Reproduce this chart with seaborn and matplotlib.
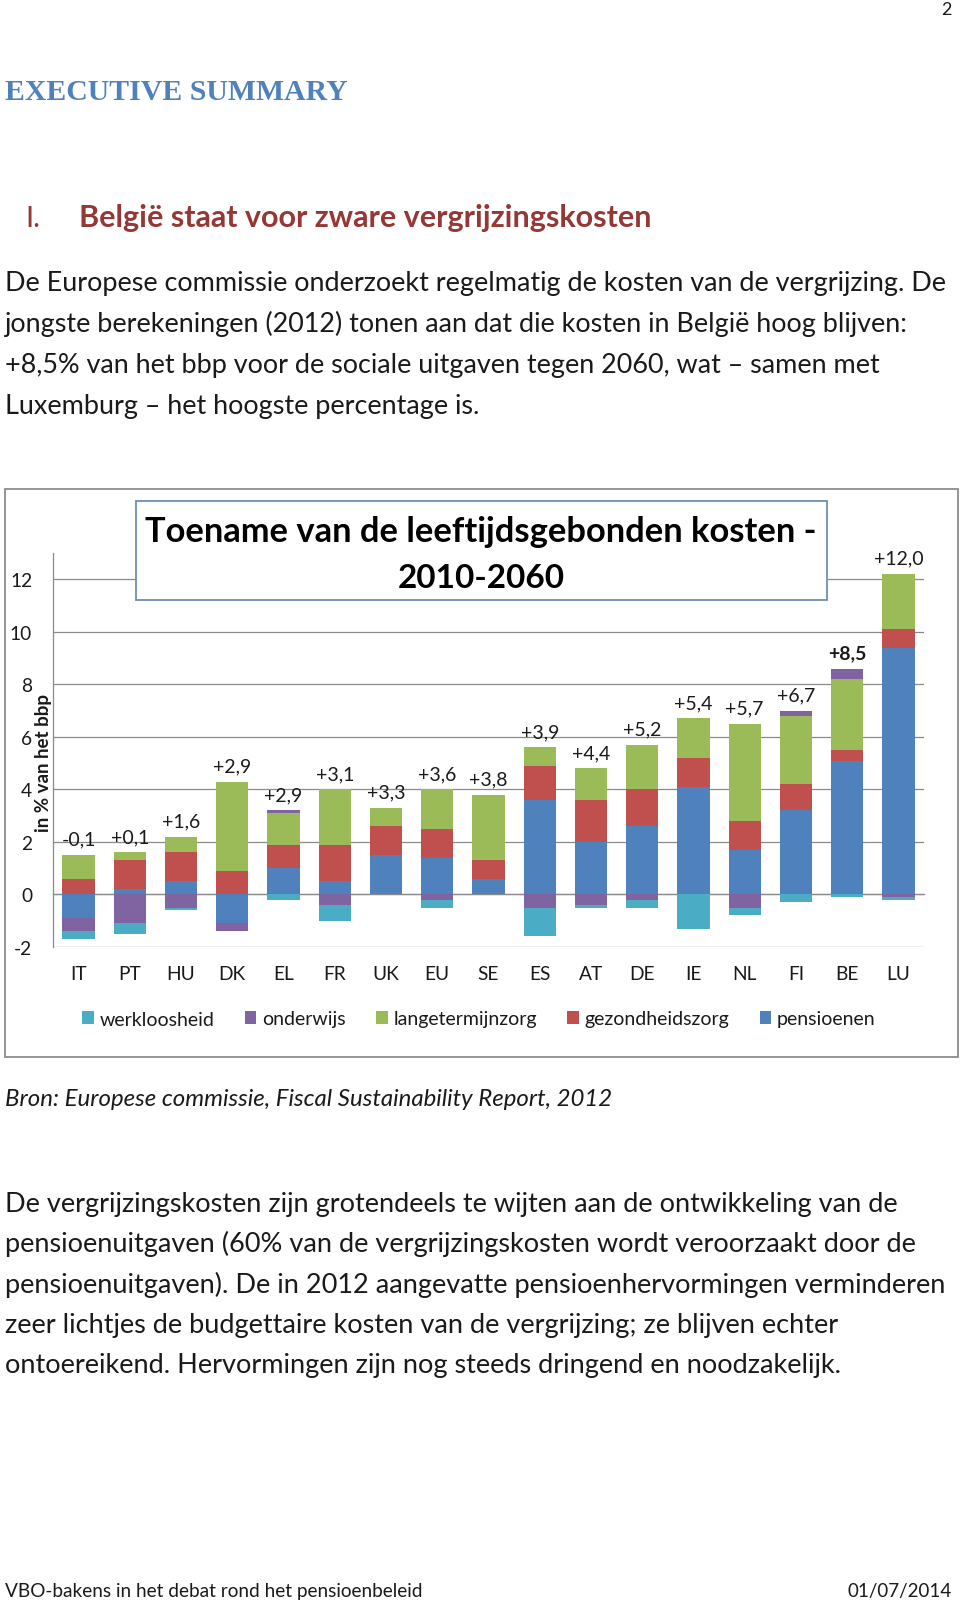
import matplotlib
matplotlib.use("Agg")
import numpy as np
import matplotlib.pyplot as plt
import seaborn as sns
from matplotlib.patches import Rectangle, Patch
from matplotlib.ticker import FixedLocator

# Gegevens: toename leeftijdsgebonden kosten 2010-2060 (in % van het bbp)
landen = ["IT", "PT", "HU", "DK", "EL", "FR", "UK", "EU", "SE",
          "ES", "AT", "DE", "IE", "NL", "FI", "BE", "LU"]
pensioenen = [-0.9, 0.2, 0.5, -1.1, 1.0, 0.5, 1.5, 1.4, 0.6,
              3.6, 2.0, 2.6, 4.1, 1.7, 3.2, 5.1, 9.4]
gezondheidszorg = [0.6, 1.1, 1.1, 0.9, 0.9, 1.4, 1.1, 1.1, 0.7,
                   1.3, 1.6, 1.4, 1.1, 1.1, 1.0, 0.4, 0.7]
langetermijnzorg = [0.9, 0.3, 0.6, 3.4, 1.2, 2.1, 0.7, 1.5, 2.5,
                    0.7, 1.2, 1.7, 1.5, 3.7, 2.6, 2.7, 2.1]
onderwijs = [-0.5, -1.1, -0.5, -0.3, 0.1, -0.4, 0.0, -0.2, 0.0,
             -0.5, -0.4, -0.2, 0.0, -0.5, 0.2, 0.4, -0.1]
werkloosheid = [-0.3, -0.4, -0.1, 0.0, -0.2, -0.6, 0.0, -0.3, 0.0,
                -1.1, -0.1, -0.3, -1.3, -0.3, -0.3, -0.1, -0.1]
totalen = ["-0,1", "+0,1", "+1,6", "+2,9", "+2,9", "+3,1", "+3,3", "+3,6", "+3,8",
           "+3,9", "+4,4", "+5,2", "+5,4", "+5,7", "+6,7", "+8,5", "+12,0"]
yticks = [-2, 0, 2, 4, 6, 8, 10, 12]

reeksen = [("pensioenen", pensioenen, "#4f81bd"),
           ("gezondheidszorg", gezondheidszorg, "#c0504d"),
           ("langetermijnzorg", langetermijnzorg, "#9bbb59"),
           ("onderwijs", onderwijs, "#8064a2"),
           ("werkloosheid", werkloosheid, "#4bacc6")]

sns.set_style("white")
plt.rcParams['font.family'] = ['Lato', 'DejaVu Sans']

W, H = 960, 1606
fig = plt.figure(figsize=(W / 100, H / 100), dpi=100)


def fx(px):
    return px / W


def fy(py):
    return 1 - py / H


tekst_kleur = "#1a1a1a"

# --- paginatekst ---
fig.text(fx(952), fy(15), "2", ha='right', va='baseline', fontsize=13, color=tekst_kleur)
fig.text(fx(5), fy(100), "EXECUTIVE SUMMARY", family='Liberation Serif', weight='bold',
         fontsize=21.4, color="#4f81bd", va='baseline')
fig.text(fx(25), fy(227), "I.", fontsize=21, color="#953735", va='baseline')
fig.text(fx(79), fy(227), "België staat voor zware vergrijzingskosten", fontsize=22,
         weight='bold', color="#953735", va='baseline')

alinea1 = ["De Europese commissie onderzoekt regelmatig de kosten van de vergrijzing. De",
           "jongste berekeningen (2012) tonen aan dat die kosten in België hoog blijven:",
           "+8,5% van het bbp voor de sociale uitgaven tegen 2060, wat \u2013 samen met",
           "Luxemburg \u2013 het hoogste percentage is."]
for i, regel in enumerate(alinea1):
    fig.text(fx(5), fy(291 + 41 * i), regel, fontsize=19.45, color=tekst_kleur, va='baseline')

fig.text(fx(5), fy(1106), "Bron: Europese commissie, Fiscal Sustainability Report, 2012",
         fontsize=17.3, style='italic', color=tekst_kleur, va='baseline')

alinea2 = ["De vergrijzingskosten zijn grotendeels te wijten aan de ontwikkeling van de",
           "pensioenuitgaven (60% van de vergrijzingskosten wordt veroorzaakt door de",
           "pensioenuitgaven). De in 2012 aangevatte pensioenhervormingen verminderen",
           "zeer lichtjes de budgettaire kosten van de vergrijzing; ze blijven echter",
           "ontoereikend. Hervormingen zijn nog steeds dringend en noodzakelijk."]
for i, regel in enumerate(alinea2):
    fig.text(fx(5), fy(1212 + 40.3 * i), regel, fontsize=19.55, color=tekst_kleur, va='baseline')

fig.text(fx(5), fy(1597), "VBO-bakens in het debat rond het pensioenbeleid",
         fontsize=13.7, color=tekst_kleur, va='baseline')
fig.text(fx(952), fy(1597), "01/07/2014", fontsize=13.5, color=tekst_kleur,
         ha='right', va='baseline')

# --- grafiek ---
fig.add_artist(Rectangle((fx(5), fy(1058)), fx(958) - fx(5), fy(490) - fy(1058),
                         transform=fig.transFigure, fill=False, edgecolor="#8c8c8c",
                         lw=1.3, zorder=1))

ax = fig.add_axes([fx(53), fy(948), fx(924) - fx(53), fy(554) - fy(948)])
x = np.arange(len(landen))
pos_basis = np.zeros(len(landen))
neg_basis = np.zeros(len(landen))
for naam, waarden, kleur in reeksen:
    v = np.array(waarden, dtype=float)
    pos = np.where(v > 0, v, 0)
    neg = np.where(v < 0, v, 0)
    ax.bar(x, pos, bottom=pos_basis, width=0.63, color=kleur, linewidth=0, zorder=3)
    ax.bar(x, neg, bottom=neg_basis, width=0.63, color=kleur, linewidth=0, zorder=3)
    pos_basis += pos
    neg_basis += neg

for i, lbl in enumerate(totalen):
    ax.text(i, pos_basis[i] + 0.6, lbl, ha='center', va='center', fontsize=14,
            weight='bold' if landen[i] == "BE" else 'normal', color=tekst_kleur, zorder=4)

ax.set_xlim(-0.5, len(landen) - 0.5)
ax.set_ylim(-2, 13)
grijs = "#8a8a8a"
ax.set_yticks(yticks)
ax.set_yticklabels([str(t) for t in yticks])
ax.yaxis.grid(True, color=grijs, lw=0.9, zorder=0)
ax.set_axisbelow(True)
for s in ["top", "right"]:
    ax.spines[s].set_visible(False)
ax.spines["left"].set_color(grijs)
ax.spines["left"].set_linewidth(0.9)
ax.spines["bottom"].set_position(('data', 0))
ax.spines["bottom"].set_color(grijs)
ax.spines["bottom"].set_linewidth(0.9)
ax.spines["bottom"].set_zorder(2)

ax.set_xticks(x)
ax.set_xticklabels(landen)
ax.xaxis.set_minor_locator(FixedLocator(np.arange(len(landen) + 1) - 0.5))
ax.tick_params(axis='x', which='major', length=0, pad=51, labelsize=13.8, labelcolor=tekst_kleur)
ax.tick_params(axis='x', which='minor', length=4.5, width=0.9, color=grijs, direction='out')
ax.tick_params(axis='y', length=4, width=0.9, color=grijs, pad=11, labelsize=13.8,
               labelcolor=tekst_kleur)

fig.text(fx(43), fy(763), "in % van het bbp", rotation=90, ha='center', va='center',
         fontsize=13.5, weight='bold', color=tekst_kleur, zorder=5)

# titelkader
fig.add_artist(Rectangle((fx(136), fy(601)), fx(827) - fx(136), fy(502) - fy(601),
                         transform=fig.transFigure, facecolor="white", edgecolor="#6d8fb5",
                         lw=1.3, zorder=3))
fig.text(fx(481), fy(542), "Toename van de leeftijdsgebonden kosten -", ha='center',
         va='baseline', fontsize=24.8, weight='bold', color="black", zorder=4)
fig.text(fx(481), fy(588), "2010-2060", ha='center', va='baseline', fontsize=24,
         weight='bold', color="black", zorder=4)

# legenda
legenda_volgorde = ["werkloosheid", "onderwijs", "langetermijnzorg", "gezondheidszorg", "pensioenen"]
kleuren = {naam: kleur for naam, _, kleur in reeksen}
handles = [Patch(facecolor=kleuren[n], edgecolor='none', label=n) for n in legenda_volgorde]
fig.legend(handles=handles, loc='center', bbox_to_anchor=(fx(479), fy(1020)), ncol=5,
           frameon=False, fontsize=14, handlelength=0.6, handleheight=0.6,
           handletextpad=0.3, columnspacing=1.55, labelcolor=tekst_kleur)

fig.savefig("out.png", dpi=100, facecolor="white")
